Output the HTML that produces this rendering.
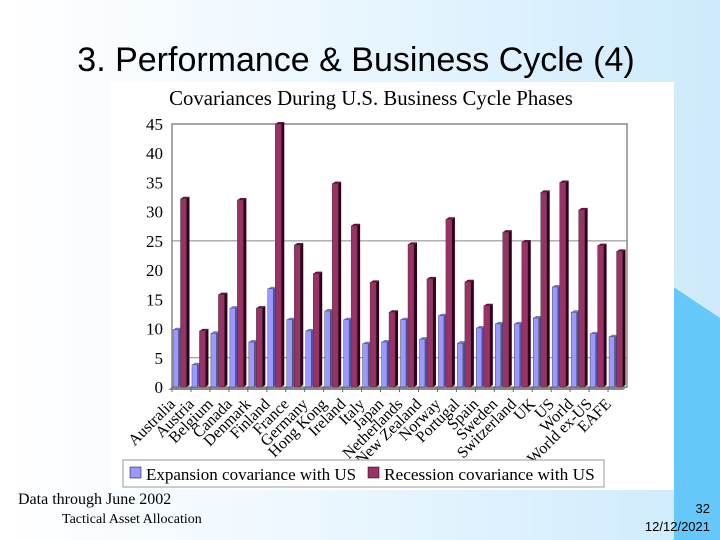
<!DOCTYPE html>
<html><head><meta charset="utf-8"><style>
body{margin:0;width:720px;height:540px;overflow:hidden;font-family:"Liberation Sans",sans-serif}
#bg{position:absolute;left:0;top:0;width:720px;height:540px;background:linear-gradient(90deg,#ffffff 0%,#eef8ff 40%,#cdeafc 100%)}
</style></head><body>
<div id="bg"></div>
<svg width="720" height="540" style="position:absolute;left:0;top:0">
<polygon points="660,278 720,318 720,540 674,540 674,490 660,490" fill="#66c8f8"/>
<text x="356" y="71" font-size="34" text-anchor="middle" fill="#000" font-family="Liberation Sans">3. Performance &amp; Business Cycle (4)</text>
<rect x="110" y="82" width="564" height="408" fill="#fff"/>
<text x="371" y="105" font-size="20.8" text-anchor="middle" font-family="Liberation Serif">Covariances During U.S. Business Cycle Phases</text>
<g id="plot"></g>
<rect x="123" y="460" width="481" height="27" fill="#fff" stroke="#999"/>
<rect x="130" y="467" width="11" height="11" fill="#9999ff" stroke="#000" stroke-width="0.5"/>
<text x="146" y="480" font-size="17" font-family="Liberation Serif">Expansion covariance with US</text>
<rect x="368" y="467" width="11" height="11" fill="#993366" stroke="#000" stroke-width="0.5"/>
<text x="384" y="480" font-size="17.3" font-family="Liberation Serif">Recession covariance with US</text>
<text x="18" y="504" font-size="16" font-family="Liberation Serif">Data through June 2002</text>
<text x="62" y="523" font-size="14" font-family="Liberation Serif">Tactical Asset Allocation</text>
<text x="710" y="513" font-size="13" text-anchor="end">32</text>
<text x="710" y="531" font-size="13" text-anchor="end">12/12/2021</text>
</svg>
<script>
const categories=["Australia","Austria","Belgium","Canada","Denmark","Finland","France","Germany","Hong Kong","Ireland","Italy","Japan","Netherlands","New Zealand","Norway","Portugal","Spain","Sweden","Switzerland","UK","US","World","World ex-US","EAFE"];
const expansion=[9.8,3.8,9.2,13.5,7.7,16.8,11.5,9.6,13,11.5,7.4,7.7,11.5,8.2,12.2,7.5,10.1,10.8,10.8,11.8,17.1,12.8,9.1,8.6];
const recession=[32.2,9.6,15.8,32,13.5,45,24.3,19.4,34.8,27.6,17.9,12.8,24.4,18.5,28.7,18,13.9,26.5,24.8,33.3,35,30.3,24.2,23.2];
const yTicks=[0,5,10,15,20,25,30,35,40,45];
const NS="http://www.w3.org/2000/svg";
const g=document.getElementById("plot");
const X0=172,X1=627,Y0=387,Y1=124,YMAX=45;
const y=v=>Y0-(v/YMAX)*(Y0-Y1);
const gw=(X1-X0)/categories.length;
const x=i=>X0+i*gw;
function mk(t,a){const e=document.createElementNS(NS,t);for(const k in a)e.setAttribute(k,a[k]);g.appendChild(e);return e;}
let e;
e=mk("rect",{x:X0,y:Y1,width:X1-X0,height:Y0-Y1,fill:"#fff",stroke:"#888","stroke-width":1.5});

e=mk("polygon",{points:`${X0-4},${Y0+3} ${X1-4},${Y0+3} ${X1},${Y0} ${X0},${Y0}`,fill:"#888"});

yTicks.forEach(t=>{
 if(t===5||t===25){e=mk("line",{x1:X0,x2:X1,y1:y(t),y2:y(t),stroke:"#888"});
 }
 e=mk("text",{x:X0-9,y:y(t)+6,"font-size":17,"text-anchor":"end","font-family":"Liberation Serif"});
 e.textContent=t;
 
});
function bar(v,bx,w,fill,side,top,name){
 const yt=y(v);
 e=mk("polygon",{points:`${bx+w},${yt} ${bx+w+3},${yt-2} ${bx+w+3},${Y0-2} ${bx+w},${Y0}`,fill:side});
 
 e=mk("polygon",{points:`${bx},${yt} ${bx+3},${yt-2} ${bx+w+3},${yt-2} ${bx+w},${yt}`,fill:top});
 
 e=mk("rect",{x:bx,y:yt,width:w,height:Y0-yt,fill:fill,stroke:"#333","stroke-width":0.4});
 
}
categories.forEach((c,i)=>{
 const bx=x(i);
 bar(expansion[i],bx+1,5.5,"#9999ff","#5555aa","#7777cc","bar-expansion");
 bar(recession[i],bx+8.5,6,"#993366","#33001a","#661133","bar-recession");
 e=mk("line",{x1:bx,x2:bx,y1:Y0,y2:Y0+5,stroke:"#666"});
 
 const lx=bx+4,ly=Y0+18;
 e=mk("text",{x:lx,y:ly,"font-size":16,"text-anchor":"end","font-family":"Liberation Serif",transform:`rotate(-45 ${lx} ${ly})`});
 e.textContent=c;
 
});
</script>
</body></html>
